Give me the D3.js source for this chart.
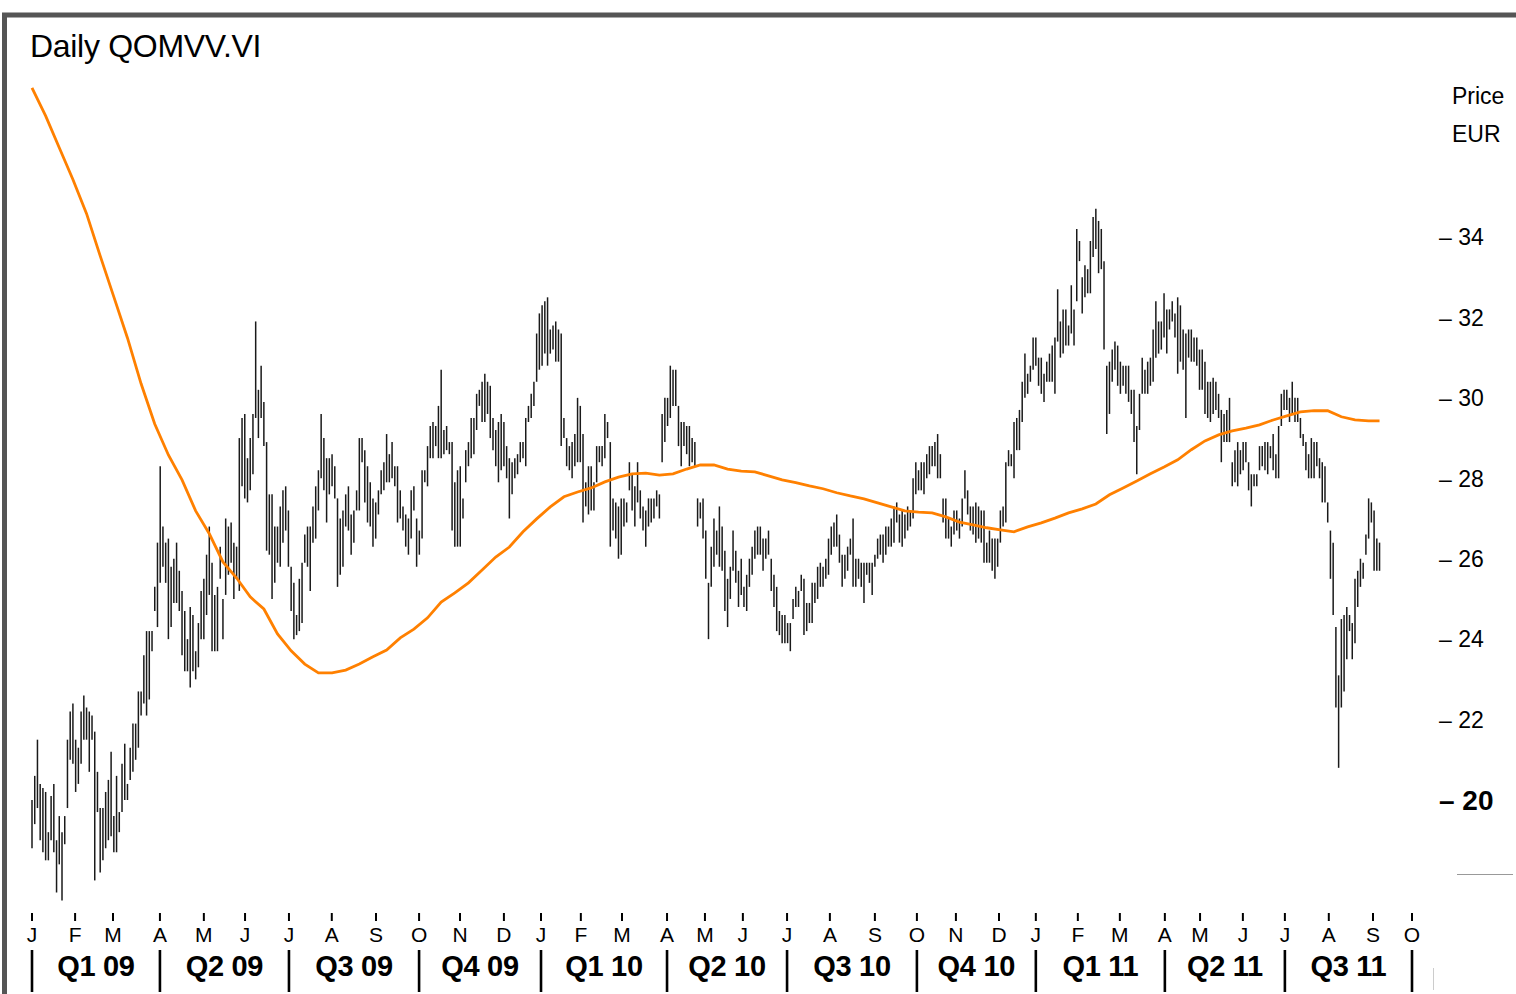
<!DOCTYPE html>
<html lang="en">
<head>
<meta charset="utf-8" />
<title>Daily QOMVV.VI</title>
<script src="https://cdnjs.cloudflare.com/ajax/libs/d3/7.8.5/d3.min.js"></script>
<style>
  body { margin: 0; background: #fff; }
  svg text { font-family: "Liberation Sans", Arial, Helvetica, sans-serif; fill: #000; }
</style>
</head>
<body>
<svg id="chart" width="1516" height="994"></svg>
<script>
// daily high / low in EUR, one pair per bar
const highLow = [
  [20.0,18.8],[20.6,19.4],[21.5,19.8],[20.4,19.0],[20.3,18.7],[20.2,18.5],[19.2,18.5],[20.1,19.0],[20.4,18.7],[19.0,17.7],[19.6,18.4],
  [19.2,17.5],[19.6,18.9],[21.5,19.8],[22.2,21.0],[22.4,20.9],[21.5,20.2],[21.3,20.4],[22.2,20.9],[22.6,21.5],[22.3,21.5],
  [22.2,20.7],[22.1,21.5],[21.7,18.0],[20.7,19.7],[19.8,18.2],[19.8,18.5],[20.2,18.8],[20.5,19.0],[21.2,19.1],[19.6,18.7],
  [20.6,18.7],[19.7,19.2],[20.9,19.7],[21.4,20.0],[20.4,20.0],[21.3,20.5],[21.9,20.7],[21.9,21.0],[22.7,21.3],
  [22.7,22.1],[23.6,22.4],[24.2,22.1],[24.2,22.5],[24.2,23.7],[25.3,24.7],[26.4,24.3],[28.3,25.4],[26.8,25.8],[26.4,25.4],[26.5,24.0],
  [25.8,24.3],[26.0,24.9],[26.4,24.9],[25.7,24.7],[25.2,23.6],[24.7,23.2],[24.0,23.2],[24.8,22.8],[24.6,23.2],[23.7,23.0],
  [24.4,23.3],[25.2,24.0],[25.5,24.0],[26.1,24.6],[26.8,25.1],[25.9,23.7],[25.1,23.7],[25.3,23.7],[26.3,25.5],[25.0,24.0],
  [27.0,25.1],[26.8,25.6],[26.9,25.9],[26.4,25.0],[26.3,25.5],[29.0,25.2],[29.5,27.8],[29.6,27.5],[28.5,27.4],[29.0,27.7],
  [29.6,28.1],[31.9,29.5],[30.2,29.0],[30.8,29.5],[29.9,28.8],[28.9,26.2],[27.6,26.1],[27.6,25.0],[26.8,25.4],[26.8,25.9],
  [27.3,25.8],[27.7,26.4],[27.8,26.7],[27.2,25.8],[25.8,24.7],[25.4,24.0],[24.6,24.1],[25.5,24.2],[25.9,24.4],[26.6,25.9],
  [26.8,25.8],[26.8,25.2],[27.3,26.4],[27.8,26.5],[28.2,27.2],[29.6,28.0],[29.0,27.7],[28.5,26.9],[28.5,27.6],[28.6,27.8],
  [28.3,27.5],[27.5,25.3],[27.0,25.6],[27.2,25.8],[27.6,26.8],[27.8,26.7],[27.1,26.1],[27.2,26.4],[27.7,27.2],[29.0,27.2],[29.0,28.4],
  [28.7,27.4],[28.3,26.9],[27.9,26.8],[27.5,26.3],[27.4,26.5],[27.7,27.1],[28.2,27.6],[28.4,27.7],[29.1,27.9],[28.6,27.9],
  [28.9,28.0],[28.3,27.8],[28.3,26.9],[27.7,27.0],[27.3,26.7],[27.1,26.3],[27.0,26.1],[27.7,26.5],[27.8,27.2],[27.0,25.8],
  [26.7,26.1],[28.2,26.5],[28.2,27.9],[28.8,27.8],[29.3,28.5],[29.4,28.5],[29.3,28.8],[29.8,28.5],[30.7,28.5],[29.2,28.6],
  [29.3,28.7],[28.9,28.6],[28.9,26.7],[27.9,26.3],[28.2,26.3],[28.3,26.3],[27.5,27.0],[28.7,27.9],[28.9,28.3],[29.5,28.5],
  [29.5,28.6],[30.1,29.2],[30.2,29.8],[30.4,29.4],[30.6,29.4],[30.4,29.6],[30.3,29.0],[29.5,28.7],[29.2,28.3],[29.4,27.9],
  [29.6,28.2],[29.4,28.3],[28.8,28.0],[28.5,27.0],[28.4,27.6],[28.5,28.0],[28.6,28.1],[28.9,28.4],[28.9,28.5],[29.5,28.3],
  [29.8,29.4],[30.1,29.5],[30.4,29.8],[31.6,30.4],[32.1,30.7],[32.3,30.8],[32.4,31.1],[32.5,30.8],[31.7,31.1],[31.8,31.2],
  [31.9,30.9],[31.7,30.9],[31.6,28.8],[29.5,29.0],[29.0,28.3],[28.8,28.2],[28.9,28.0],[29.1,28.3],[30.0,28.4],[29.8,28.4],
  [29.1,26.9],[27.9,27.3],[28.3,27.1],[28.3,27.2],[27.9,27.2],[28.8,27.9],[28.8,28.4],[28.8,28.3],[29.6,28.5],[29.4,29.0],
  [28.9,26.3],[27.5,26.7],[27.4,26.5],[27.3,26.0],[27.5,26.1],[27.5,26.8],[27.4,26.9],[28.4,27.7],[28.1,27.2],[27.8,26.8],
  [28.4,27.4],[27.7,27.0],[27.3,26.7],[27.2,26.3],[27.5,26.8],[27.5,26.9],[27.5,27.0],[27.7,27.3],[27.6,27.0],[29.6,28.4],
  [30.0,28.9],[30.0,29.3],[30.8,29.5],[30.7,29.8],[30.7,29.8],[29.8,28.8],[29.4,28.3],[29.4,28.8],[29.3,28.6],[29.3,28.3],[29.0,28.4],[28.9,28.3],[27.5,26.8],
  [27.4,27.0],[27.5,26.5],[26.7,25.5],[25.4,24.0],[26.3,25.3],[27.0,25.8],[26.7,26.1],[27.3,25.8],[26.8,25.7],[26.2,24.7],
  [25.5,24.3],[25.8,25.0],[26.7,25.7],[26.2,25.4],[25.7,24.8],[26.0,25.1],[25.3,24.8],[25.6,24.7],[26.0,25.3],[26.3,25.6],
  [26.7,26.0],[26.8,26.1],[26.8,26.1],[26.5,25.7],[26.5,26.0],[26.7,26.1],[26.0,25.2],[25.6,24.8],[25.3,24.2],[24.7,24.1],
  [24.6,23.9],[24.6,23.9],[24.4,23.9],[24.4,23.7],[25.0,24.5],[25.3,24.8],[25.2,24.8],[25.6,25.2],[25.5,24.1],[24.9,24.2],
  [24.9,24.4],[25.4,24.4],[25.4,24.9],[25.8,25.0],[25.9,25.3],[25.8,25.3],[26.0,25.5],[26.5,25.6],[26.8,26.1],[26.9,26.3],
  [27.1,26.3],[26.6,25.9],[26.1,25.3],[26.1,25.5],[26.3,25.7],[26.5,26.1],[27.0,25.3],[26.0,25.3],[26.0,25.5],[25.9,25.3],
  [25.9,24.9],[25.9,25.6],[25.9,25.4],[25.9,25.1],[26.1,25.8],[26.5,26.0],[26.6,26.1],[26.6,25.9],[26.8,26.1],[26.8,26.3],
  [27.0,26.3],[27.3,26.4],[27.4,26.9],[27.1,26.4],[27.2,26.3],[27.1,26.5],[27.3,26.7],[27.2,26.8],[28.0,27.0],[28.4,27.6],
  [28.2,27.7],[28.4,27.7],[28.4,27.6],[28.6,28.0],[28.8,28.1],[28.8,28.3],[28.9,28.3],[29.1,28.0],[28.6,28.0],[27.5,26.9],
  [27.5,26.5],[27.0,26.5],[26.8,26.3],[27.2,26.6],[27.2,26.7],[27.0,26.5],[27.5,26.8],[28.2,27.5],[27.7,27.1],[27.3,26.7],
  [27.3,26.6],[27.4,26.4],[27.3,26.5],[27.2,26.4],[27.2,25.9],[26.4,25.9],[26.7,25.9],[26.5,25.7],[26.5,25.5],[26.5,25.8],
  [27.2,26.4],[27.3,26.8],[28.4,26.9],[28.7,28.3],[28.6,28.3],[29.4,28.0],[29.5,28.7],[29.7,28.7],[30.4,29.4],[31.1,30.0],
  [30.6,30.1],[30.8,30.4],[31.5,30.7],[31.5,30.8],[31.0,30.3],[31.0,30.1],[30.6,29.9],[30.9,30.4],[31.1,30.4],[31.3,30.4],[31.5,30.1],
  [32.7,31.4],[31.9,31.0],[32.2,31.1],[32.2,31.3],[31.8,31.3],[32.8,31.6],[32.2,31.3],[34.2,32.4],[33.9,33.4],[33.0,32.1],
  [33.3,32.5],[33.2,32.6],[33.9,32.6],[34.5,33.5],[34.7,33.7],[34.4,33.1],[34.2,33.2],[33.4,31.2],[30.8,29.1],[30.9,29.6],
  [31.2,30.4],[31.4,30.7],[31.3,30.3],[30.9,30.1],[30.8,30.3],[30.8,30.1],[30.8,29.9],[30.2,29.6],[30.2,28.9],[29.3,28.1],
  [30.1,29.2],[31.0,30.1],[30.7,30.1],[30.9,30.1],[31.0,30.3],[31.7,30.4],[32.4,31.0],[31.9,31.1],[31.9,31.2],[32.6,31.5],
  [32.2,31.1],[32.2,31.7],[32.4,31.9],[32.1,31.5],[32.5,30.6],[32.3,30.9],[31.7,30.7],[31.6,29.5],[31.7,31.0],[31.7,30.9],
  [31.5,30.9],[31.5,30.8],[31.2,30.2],[31.2,30.2],[30.9,29.6],[30.4,29.5],[30.4,29.4],[30.5,29.6],[30.4,29.7],[30.1,29.5],
  [29.7,28.4],[29.6,28.9],[29.7,28.9],[30.0,28.9],[28.4,27.8],[28.7,27.9],[28.9,27.8],[28.7,28.1],[28.9,28.2],[28.9,28.4],
  [28.4,27.7],[28.1,27.3],[28.1,27.8],[28.1,27.8],[28.8,28.2],[28.8,28.3],[28.9,28.2],[28.9,28.1],[28.8,28.5],[29.1,28.2],
  [28.6,28.0],[29.3,28.0],[30.1,29.3],[30.2,29.7],[30.2,29.7],[30.0,29.4],[30.4,29.6],[30.0,29.4],[30.0,29.4],[29.5,29.0],
  [29.1,28.8],[28.9,28.2],[28.6,28.0],[29.0,28.0],[28.9,28.0],[28.9,28.3],[28.5,28.0],[28.4,27.4],[28.3,27.4],[27.4,26.9],
  [26.7,25.5],[26.4,24.6],[24.3,22.3],[23.1,20.8],[24.5,22.3],[24.6,22.7],[24.8,23.5],[24.6,24.2],[24.4,23.5],[25.5,23.9],
  [25.7,24.8],[26.0,25.3],[25.9,25.5],[26.6,26.1],[27.5,26.5],[27.4,26.9],[27.2,25.7],[26.5,25.7],[26.4,25.7]
];

// moving average, one value every maStep bars (last one on the last bar)
const maStep = 5;
const movingAvg = [
  37.71,37.01,36.22,35.43,34.58,33.53,32.51,31.49,30.35,29.35,
  28.58,27.96,27.19,26.62,25.92,25.52,25.05,24.75,24.13,23.71,
  23.38,23.16,23.16,23.23,23.38,23.56,23.73,24.03,24.25,24.53,
  24.92,25.15,25.40,25.72,26.04,26.29,26.67,26.99,27.29,27.54,
  27.66,27.76,27.91,28.03,28.11,28.13,28.08,28.11,28.23,28.33,
  28.33,28.23,28.18,28.16,28.06,27.96,27.89,27.81,27.74,27.64,
  27.56,27.49,27.39,27.29,27.19,27.16,27.14,27.04,26.91,26.84,
  26.77,26.72,26.67,26.79,26.89,27.01,27.14,27.24,27.36,27.59,
  27.76,27.93,28.11,28.28,28.46,28.71,28.93,29.08,29.18,29.25,
  29.33,29.45,29.55,29.65,29.68,29.68,29.53,29.45,29.43,29.43
];

// month starts, in bar units
const monthIdx = [0,15.8,29.7,46.9,63.0,78.1,94.2,109.9,126.1,141.9,156.9,173.0,
  186.6,201.2,216.3,232.8,246.7,260.6,276.8,292.5,309.0,324.4,338.7,354.5,
  368.0,383.4,398.8,415.3,428.2,443.9,459.3,475.4,491.6,505.9];
const monthLabels = ["J","F","M","A","M","J","J","A","S","O","N","D",
  "J","F","M","A","M","J","J","A","S","O","N","D",
  "J","F","M","A","M","J","J","A","S","O"];
const quarterLabels = ["Q1 09","Q2 09","Q3 09","Q4 09","Q1 10","Q2 10","Q3 10","Q4 10","Q1 11","Q2 11","Q3 11"];
const yTicks = [20,22,24,26,28,30,32,34];

const svg = d3.select("#chart");
const N = highLow.length;

const x = d3.scaleLinear().domain([0, monthIdx[monthIdx.length - 1]]).range([32, 1412]);
const y = d3.scaleLinear().domain([20, 34]).range([800, 237]);

// frame
svg.append("path")
  .attr("d", "M4.5,994V15H1516")
  .attr("fill", "none")
  .attr("stroke", "#555")
  .attr("stroke-width", 5);

svg.append("text")
  .attr("x", 30).attr("y", 57)
  .style("font-size", "32px")
  .style("letter-spacing", "-0.3px")
  .text("Daily QOMVV.VI");

// high-low bars
svg.append("g")
  .selectAll("line")
  .data(highLow)
  .join("line")
  .attr("x1", (d, i) => x(i))
  .attr("x2", (d, i) => x(i))
  .attr("y1", (d) => y(d[0]))
  .attr("y2", (d) => y(d[1]))
  .attr("stroke", "#1a1a1a")
  .attr("stroke-width", 1.5);

// moving average
const line = d3.line()
  .x((d, i) => x(Math.min(i * maStep, N - 1)))
  .y((d) => y(d));
svg.append("path")
  .attr("d", line(movingAvg))
  .attr("fill", "none")
  .attr("stroke", "#ff8000")
  .attr("stroke-width", 2.8);

// y axis labels
svg.append("text").attr("x", 1452).attr("y", 104).style("font-size", "23px").text("Price");
svg.append("text").attr("x", 1452).attr("y", 142).style("font-size", "23px").text("EUR");

svg.append("g")
  .selectAll("text")
  .data(yTicks)
  .join("text")
  .attr("x", 1439)
  .attr("y", (d) => y(d))
  .attr("dy", "0.36em")
  .style("font-size", (d) => (d === 20 ? "28px" : "23px"))
  .style("font-weight", (d) => (d === 20 ? "bold" : "normal"))
  .text((d) => "\u2013 " + d);

svg.append("line")
  .attr("x1", 1457).attr("x2", 1513).attr("y1", 874.5).attr("y2", 874.5)
  .attr("stroke", "#999");

// month ticks
const months = svg.append("g");
months.selectAll("line")
  .data(monthIdx)
  .join("line")
  .attr("x1", (d) => x(d)).attr("x2", (d) => x(d))
  .attr("y1", 913).attr("y2", 921)
  .attr("stroke", "#000").attr("stroke-width", 2);
months.selectAll("text")
  .data(monthIdx)
  .join("text")
  .attr("x", (d) => x(d))
  .attr("y", 942)
  .attr("text-anchor", "middle")
  .style("font-size", "21px")
  .text((d, i) => monthLabels[i]);

// quarters
const qEdges = monthIdx.filter((d, i) => i % 3 === 0);
const quarters = svg.append("g");
quarters.selectAll("line")
  .data(qEdges)
  .join("line")
  .attr("x1", (d) => x(d)).attr("x2", (d) => x(d))
  .attr("y1", 950).attr("y2", 992)
  .attr("stroke", "#000").attr("stroke-width", 2.6);
quarters.selectAll("text")
  .data(quarterLabels)
  .join("text")
  .attr("x", (d, i) => (x(qEdges[i]) + x(qEdges[i + 1])) / 2)
  .attr("y", 976)
  .attr("text-anchor", "middle")
  .style("font-size", "29px")
  .style("font-weight", "bold")
  .style("letter-spacing", "-0.3px")
  .text((d) => d);

svg.append("line")
  .attr("x1", 1433.5).attr("x2", 1433.5).attr("y1", 968).attr("y2", 990)
  .attr("stroke", "#ccc");
</script>
</body>
</html>
